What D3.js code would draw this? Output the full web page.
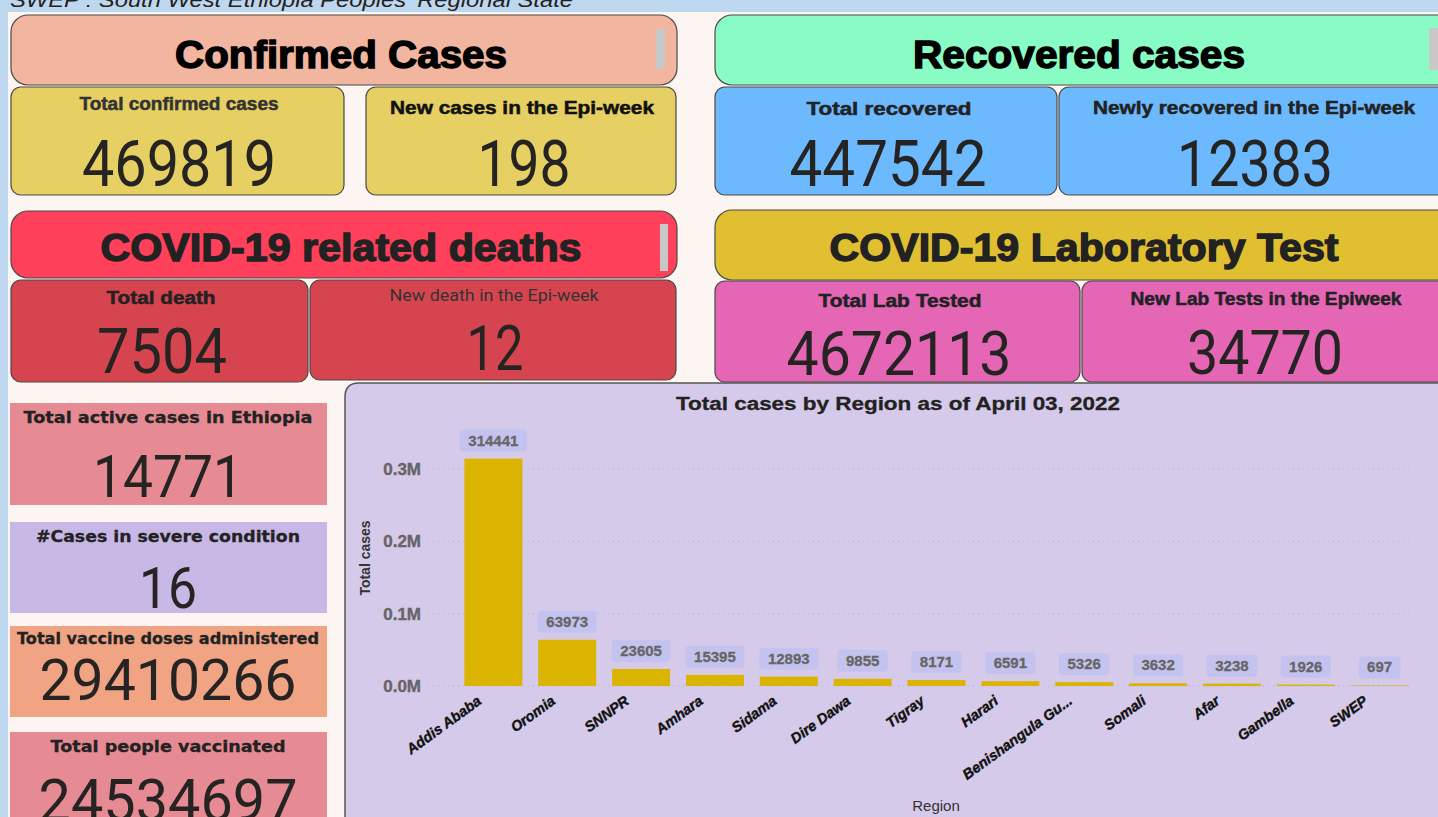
<!DOCTYPE html>
<html>
<head>
    <title>Ethiopia COVID-19 Dashboard</title>
    <script src="https://cdnjs.cloudflare.com/ajax/libs/d3/7.8.5/d3.min.js"></script>
    <style>
        body { margin: 0; padding: 0; background: #bdd7ee; overflow: hidden; }
        svg { display: block; }
    </style>
</head>
<body>
<svg id="dash" width="1438" height="817"></svg>
<script>
    // ---- data ----
    const headerTitles = ["Confirmed Cases", "Recovered cases", "COVID-19 related deaths", "COVID-19 Laboratory Test"];
    const cardLabels = ["Total confirmed cases", "New cases in the Epi-week", "Total recovered", "Newly recovered in the Epi-week",
        "Total death", "New death in the Epi-week", "Total Lab Tested", "New Lab Tests in the Epiweek"];
    const cardValues = [469819, 198, 447542, 12383, 7504, 12, 4672113, 34770];
    const sideLabels = ["Total active cases in Ethiopia", "#Cases in severe condition", "Total vaccine doses administered", "Total people vaccinated"];
    const sideValues = [14771, 16, 29410266, 24534697];

    const regions = ["Addis Ababa", "Oromia", "SNNPR", "Amhara", "Sidama", "Dire Dawa", "Tigray", "Harari",
        "Benishangula Gu...", "Somali", "Afar", "Gambella", "SWEP"];
    const totalCases = [314441, 63973, 23605, 15395, 12893, 9855, 8171, 6591, 5326, 3632, 3238, 1926, 697];
    const yTicks = [0, 100000, 200000, 300000];

    const chartTitle = "Total cases by Region as of April 03, 2022";
    const topNote = "SWEP : South West Ethiopia Peoples' Regional State";

    // ---- layout ----
    const headers = [
        {x: 11, y: 15, w: 666, h: 70, fill: "#f2b59f", tx: 341, ty: 68, tw: 332, fs: 39, col: "#000", bar: [656, 29, 9, 40]},
        {x: 715, y: 15, w: 740, h: 70, fill: "#88fcc4", tx: 1079, ty: 68, tw: 332, fs: 39, col: "#000", bar: [1429, 28, 9, 42]},
        {x: 11, y: 211, w: 666, h: 67, fill: "#ff405a", tx: 341, ty: 261, tw: 481, fs: 38, col: "#222", bar: [660, 224, 8, 47]},
        {x: 715, y: 210, w: 740, h: 70, fill: "#e0c030", tx: 1084, ty: 261, tw: 509, fs: 38, col: "#222", bar: null}
    ];
    const cards = [
        {x: 11, y: 87, w: 333, h: 108, fill: "#e6cf63", lx: 179, ly: 110, lw: 199, lc: "#333", vx: 179, vy: 186, vw: 194, vs: 64},
        {x: 366, y: 87, w: 310, h: 108, fill: "#e6cf63", lx: 522, ly: 114, lw: 264, lc: "#111", vx: 524, vy: 186, vw: 93, vs: 64},
        {x: 715, y: 87, w: 342, h: 108, fill: "#6cb9fe", lx: 889, ly: 115, lw: 165, lc: "#222", vx: 888, vy: 186, vw: 197, vs: 64},
        {x: 1059, y: 87, w: 400, h: 108, fill: "#6cb9fe", lx: 1254, ly: 114, lw: 322, lc: "#222", vx: 1255, vy: 186, vw: 156, vs: 64},
        {x: 11, y: 280, w: 297, h: 102, fill: "#d6454f", lx: 161, ly: 304, lw: 109, lc: "#222", vx: 162, vy: 373, vw: 130, vs: 63},
        {x: 310, y: 280, w: 366, h: 100, fill: "#d6454f", lx: 494, ly: 301, lw: 209, lc: "#333", vx: 495, vy: 370, vw: 57, vs: 63, light: true},
        {x: 715, y: 281, w: 365, h: 101, fill: "#e466b5", lx: 900, ly: 307, lw: 163, lc: "#222", vx: 899, vy: 375, vw: 225, vs: 62},
        {x: 1082, y: 281, w: 400, h: 101, fill: "#e466b5", lx: 1266, ly: 305, lw: 271, lc: "#222", vx: 1265, vy: 374, vw: 156, vs: 62}
    ];
    const sides = [
        {y: 403, h: 102, fill: "#e68b94", ly: 423, lw: 289, vy: 497, vw: 150, vs: 59},
        {y: 522, h: 91, fill: "#c8b8e6", ly: 542, lw: 264, vy: 608, vw: 58, vs: 58},
        {y: 626, h: 91, fill: "#f0a484", ly: 644, lw: 302, vy: 700, vw: 257, vs: 58},
        {y: 732, h: 100, fill: "#e68b94", ly: 752, lw: 235, vy: 821, vw: 259, vs: 60}
    ];

    const svg = d3.select("#dash");
    const numFont = "Roboto, 'DejaVu Sans', sans-serif";
    const sansFont = "'Liberation Sans', Arial, sans-serif";

    function label(s, x, y, opts) {
        const t = svg.append("text")
            .attr("x", x).attr("y", y)
            .attr("text-anchor", "middle")
            .attr("font-family", opts.family || sansFont)
            .attr("font-size", opts.size)
            .attr("font-weight", opts.weight || "bold")
            .attr("fill", opts.fill || "#222")
            .text(s);
        if (opts.width) t.attr("textLength", opts.width).attr("lengthAdjust", "spacingAndGlyphs");
        if (opts.stroke) t.attr("stroke", opts.fill).attr("stroke-width", opts.stroke);
        return t;
    }

    // background panels
    svg.append("rect").attr("width", 1438).attr("height", 817).attr("fill", "#bdd7ee");
    label(topNote, 10, 7, {size: 21, weight: "normal", width: 563, fill: "#222"})
        .attr("text-anchor", "start").attr("font-style", "italic");
    svg.append("rect").attr("x", 8).attr("y", 12).attr("width", 1430).attr("height", 805).attr("fill", "#fdf5f2");

    // header tiles
    headers.forEach((h, i) => {
        svg.append("rect").attr("x", h.x).attr("y", h.y).attr("width", h.w).attr("height", h.h)
            .attr("rx", 17).attr("fill", h.fill).attr("stroke", "#4a4a4a").attr("stroke-width", 1.2);
        if (h.bar) svg.append("rect").attr("x", h.bar[0]).attr("y", h.bar[1])
            .attr("width", h.bar[2]).attr("height", h.bar[3]).attr("fill", "#c8c8c8");
        label(headerTitles[i], h.tx, h.ty, {size: h.fs, width: h.tw, fill: h.col, stroke: 1.4});
    });

    // KPI cards
    cards.forEach((c, i) => {
        svg.append("rect").attr("x", c.x).attr("y", c.y).attr("width", c.w).attr("height", c.h)
            .attr("rx", 10).attr("fill", c.fill).attr("stroke", "#4a4a4a").attr("stroke-width", 1.2);
        if (c.light) {
            label(cardLabels[i], c.lx, c.ly, {size: 16, weight: "normal", family: numFont, width: c.lw, fill: c.lc});
        } else {
            label(cardLabels[i], c.lx, c.ly, {size: 18, width: c.lw, fill: c.lc, stroke: 0.5});
        }
        label(String(cardValues[i]), c.vx, c.vy, {size: c.vs, weight: "normal", family: numFont, width: c.vw, fill: "#252423"});
    });

    // left column tiles
    sides.forEach((s, i) => {
        svg.append("rect").attr("x", 10).attr("y", s.y).attr("width", 317).attr("height", s.h).attr("fill", s.fill);
        label(sideLabels[i], 168, s.ly, {size: 15, family: "'DejaVu Sans', sans-serif", width: s.lw, fill: "#222", stroke: 0.3});
        label(String(sideValues[i]), 168, s.vy, {size: s.vs, weight: "normal", family: numFont, width: s.vw, fill: "#252423"});
    });

    // ---- bar chart ----
    svg.append("path")
        .attr("d", "M345,830 L345,397 Q345,383 359,383 L1445,383 L1445,830 Z")
        .attr("fill", "#d6caea").attr("stroke", "#555").attr("stroke-width", 1.5);

    label(chartTitle, 898, 410, {size: 18, width: 444, fill: "#222", stroke: 0.3});

    const x = d3.scaleBand().domain(regions).range([457, 1416]).paddingInner(0.215).paddingOuter(0.1);
    const y = d3.scaleLinear().domain([0, 300000]).range([686, 469]);

    const grid = svg.append("g");
    grid.selectAll("line").data(yTicks).join("line")
        .attr("x1", 428).attr("x2", 1412)
        .attr("y1", d => y(d)).attr("y2", d => y(d))
        .attr("stroke", "#bdb0cc").attr("stroke-dasharray", "1,4");

    const yAxis = svg.append("g").attr("transform", "translate(424,0)")
        .call(d3.axisLeft(y).tickValues(yTicks).tickSize(0).tickPadding(3)
            .tickFormat(d => (d / 1e6).toFixed(1) + "M"));
    yAxis.select(".domain").remove();
    yAxis.selectAll("text").attr("font-family", sansFont)
        .attr("font-size", 17).attr("font-weight", "bold").attr("fill", "#666")
        .attr("stroke", "#666").attr("stroke-width", 0.4);

    svg.append("text").attr("transform", "translate(370,558) rotate(-90)")
        .attr("text-anchor", "middle").attr("font-family", sansFont)
        .attr("font-size", 14).attr("font-weight", "bold").attr("fill", "#333").text("Total cases");

    const rows = regions.map((r, i) => ({region: r, value: totalCases[i]}));

    svg.append("g").selectAll("rect").data(rows).join("rect")
        .attr("x", d => x(d.region)).attr("width", x.bandwidth())
        .attr("y", d => y(d.value)).attr("height", d => y(0) - y(d.value))
        .attr("fill", "#dab400");

    const dl = svg.append("g").selectAll("g").data(rows).join("g")
        .attr("transform", d => `translate(${x(d.region) + x.bandwidth() / 2},${y(d.value) - 7})`);
    dl.append("rect")
        .attr("x", d => -(String(d.value).length * 8.6 + 16) / 2)
        .attr("width", d => String(d.value).length * 8.6 + 16)
        .attr("y", -22).attr("height", 22).attr("rx", 4)
        .attr("fill", "#c4c2ee");
    dl.append("text").attr("y", -6).attr("text-anchor", "middle")
        .attr("font-family", sansFont)
        .attr("font-size", 15).attr("font-weight", "bold").attr("fill", "#666")
        .attr("stroke", "#666").attr("stroke-width", 0.3)
        .text(d => d.value);

    const xAxis = svg.append("g").attr("transform", "translate(0,686)")
        .call(d3.axisBottom(x).tickSize(0).tickPadding(0));
    xAxis.select(".domain").remove();
    xAxis.selectAll("text")
        .attr("text-anchor", "end")
        .attr("dy", 0)
        .attr("transform", "translate(-11,17) rotate(-36)")
        .attr("font-family", sansFont)
        .attr("font-size", 14.5).attr("font-weight", "bold").attr("font-style", "italic")
        .attr("fill", "#111").attr("stroke", "#111").attr("stroke-width", 0.4);

    svg.append("text").attr("x", 936).attr("y", 811).attr("text-anchor", "middle")
        .attr("font-family", sansFont)
        .attr("font-size", 15).attr("fill", "#333").text("Region");
</script>
</body>
</html>
